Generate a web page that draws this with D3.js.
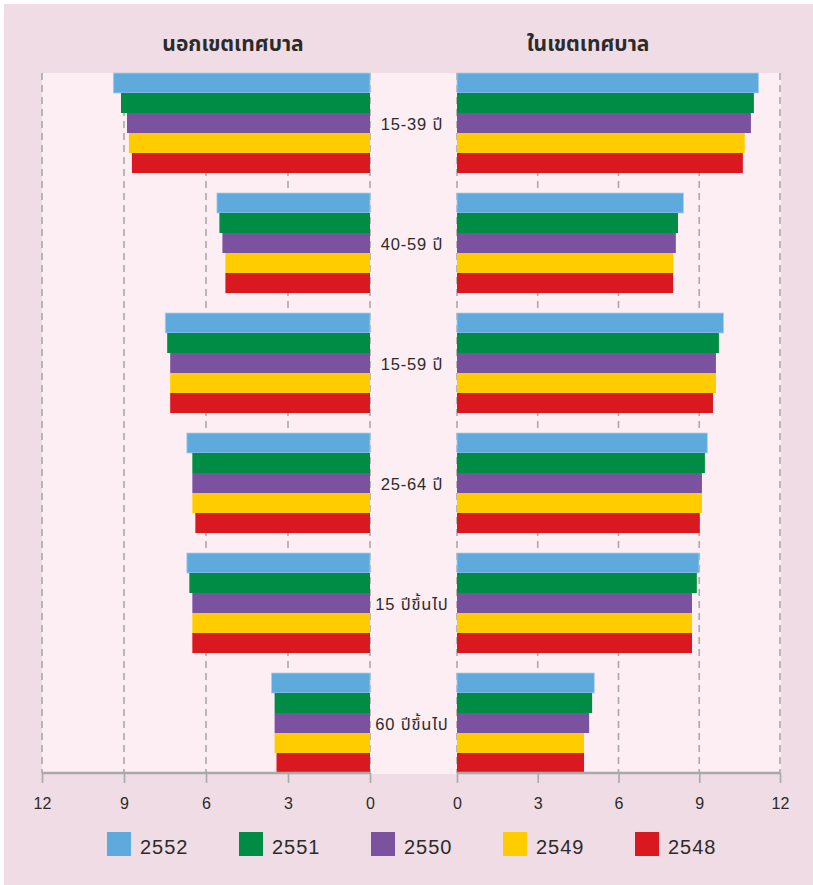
<!DOCTYPE html>
<html lang="th">
<head>
<meta charset="UTF-8">
<title>นอกเขตเทศบาล / ในเขตเทศบาล</title>
<script src="https://d3js.org/d3.v7.min.js"></script>
<style>
    html, body { margin: 0; padding: 0; background: #fff; }
    svg { display: block; }
    text { font-family: "Liberation Sans", "Noto Sans Thai", "Noto Sans", sans-serif; fill: #2b2b2b; }
</style>
</head>
<body>
<svg id="chart" width="813" height="885"></svg>
<script>
// age groups (top to bottom)
const groups = ["15-39 ปี", "40-59 ปี", "15-59 ปี", "25-64 ปี", "15 ปีขึ้นไป", "60 ปีขึ้นไป"];
const years = ["2552", "2551", "2550", "2549", "2548"];
const colors = ["#5eaadc", "#008c45", "#7b52a0", "#ffcc00", "#d9191f"];
const xTicks = [0, 3, 6, 9, 12];

// นอกเขตเทศบาล, one array per year, values per group
const outside = {
    "2552": [9.39, 5.60, 7.49, 6.70, 6.70, 3.60],
    "2551": [9.11, 5.51, 7.42, 6.50, 6.61, 3.49],
    "2550": [8.89, 5.40, 7.31, 6.50, 6.50, 3.49],
    "2549": [8.82, 5.29, 7.31, 6.50, 6.50, 3.49],
    "2548": [8.71, 5.29, 7.31, 6.39, 6.50, 3.42]
};
// ในเขตเทศบาล
const inside = {
    "2552": [11.20, 8.41, 9.90, 9.30, 8.99, 5.10],
    "2551": [11.03, 8.21, 9.73, 9.21, 8.91, 5.02],
    "2550": [10.92, 8.13, 9.62, 9.10, 8.73, 4.91],
    "2549": [10.69, 8.03, 9.62, 9.10, 8.73, 4.72],
    "2548": [10.62, 8.03, 9.51, 9.02, 8.73, 4.72]
};

const svg = d3.select("#chart");
const plotTop = 73, plotBottom = 773;

// backgrounds
svg.append("rect").attr("x", 4).attr("y", 4).attr("width", 809).attr("height", 881).attr("fill", "#f0dce4");
svg.append("rect").attr("x", 42).attr("y", plotTop).attr("width", 739).attr("height", plotBottom - plotTop + 1).attr("fill", "#fdeef4");

const y = d3.scaleBand().domain(groups).range([plotTop, plotBottom]).paddingInner(1 / 6).paddingOuter(0);
const yInner = d3.scaleBand().domain(years).range([0, y.bandwidth()]);
const color = d3.scaleOrdinal().domain(years).range(colors);

const xLeft = d3.scaleLinear().domain([0, 12]).range([370, 42]);
const xRight = d3.scaleLinear().domain([0, 12]).range([457, 780]);

function panel(x, data, title, titleX) {
    const g = svg.append("g");

    // dashed grid
    g.selectAll("line.grid")
        .data(xTicks)
        .enter().append("line")
        .attr("x1", d => x(d)).attr("x2", d => x(d))
        .attr("y1", plotTop).attr("y2", plotBottom)
        .attr("stroke", "#a9a9a9")
        .attr("stroke-width", 1.6)
        .attr("stroke-dasharray", "7,5");

    // bars
    years.forEach(yr => {
        g.selectAll(null)
            .data(groups.map((grp, i) => ({ grp, v: data[yr][i] })))
            .enter().append("rect")
            .attr("x", d => Math.min(x(0), x(d.v)))
            .attr("width", d => Math.abs(x(d.v) - x(0)))
            .attr("y", d => y(d.grp) + yInner(yr))
            .attr("height", yInner.bandwidth())
            .attr("fill", color(yr))
            .attr("stroke", yr === "2552" ? "#a9cdea" : "none")
            .attr("stroke-width", yr === "2552" ? 0.8 : 0);
    });

    // axis
    const axis = d3.axisBottom(x).tickValues(xTicks).tickSize(10).tickPadding(15).tickFormat(d3.format("d"));
    const ag = g.append("g").attr("transform", `translate(0,${plotBottom})`).call(axis);
    ag.select(".domain").attr("stroke", "#a9a9a9").attr("stroke-width", 2.4)
        .attr("d", `M${x.range()[0]},0H${x.range()[1]}`);
    ag.selectAll(".tick line").attr("stroke", "#a9a9a9").attr("stroke-width", 1.6);
    ag.selectAll(".tick text").attr("font-size", 16).attr("fill", "#2b2b2b")
        .style("font-family", "'Liberation Sans', sans-serif");

    svg.append("text")
        .attr("x", titleX).attr("y", 51)
        .attr("text-anchor", "middle")
        .attr("font-size", 21).attr("font-weight", "bold")
        .text(title);
}

panel(xLeft, outside, "นอกเขตเทศบาล", 233);
panel(xRight, inside, "ในเขตเทศบาล", 588);

// group labels in the middle
svg.selectAll("text.grp")
    .data(groups)
    .enter().append("text")
    .attr("class", "grp")
    .attr("x", 412)
    .attr("y", d => y(d) + y.bandwidth() / 2 + 7)
    .attr("text-anchor", "middle")
    .attr("font-size", 16.5)
    .attr("letter-spacing", 0.8)
    .text(d => d);

// legend
const lg = svg.append("g").selectAll("g")
    .data(years)
    .enter().append("g")
    .attr("transform", (d, i) => `translate(${107 + i * 132},832)`);
lg.append("rect").attr("width", 24).attr("height", 24).attr("fill", d => color(d));
lg.append("text").attr("x", 33).attr("y", 22)
    .attr("font-size", 20).attr("letter-spacing", 1)
    .text(d => d);
</script>
</body>
</html>
